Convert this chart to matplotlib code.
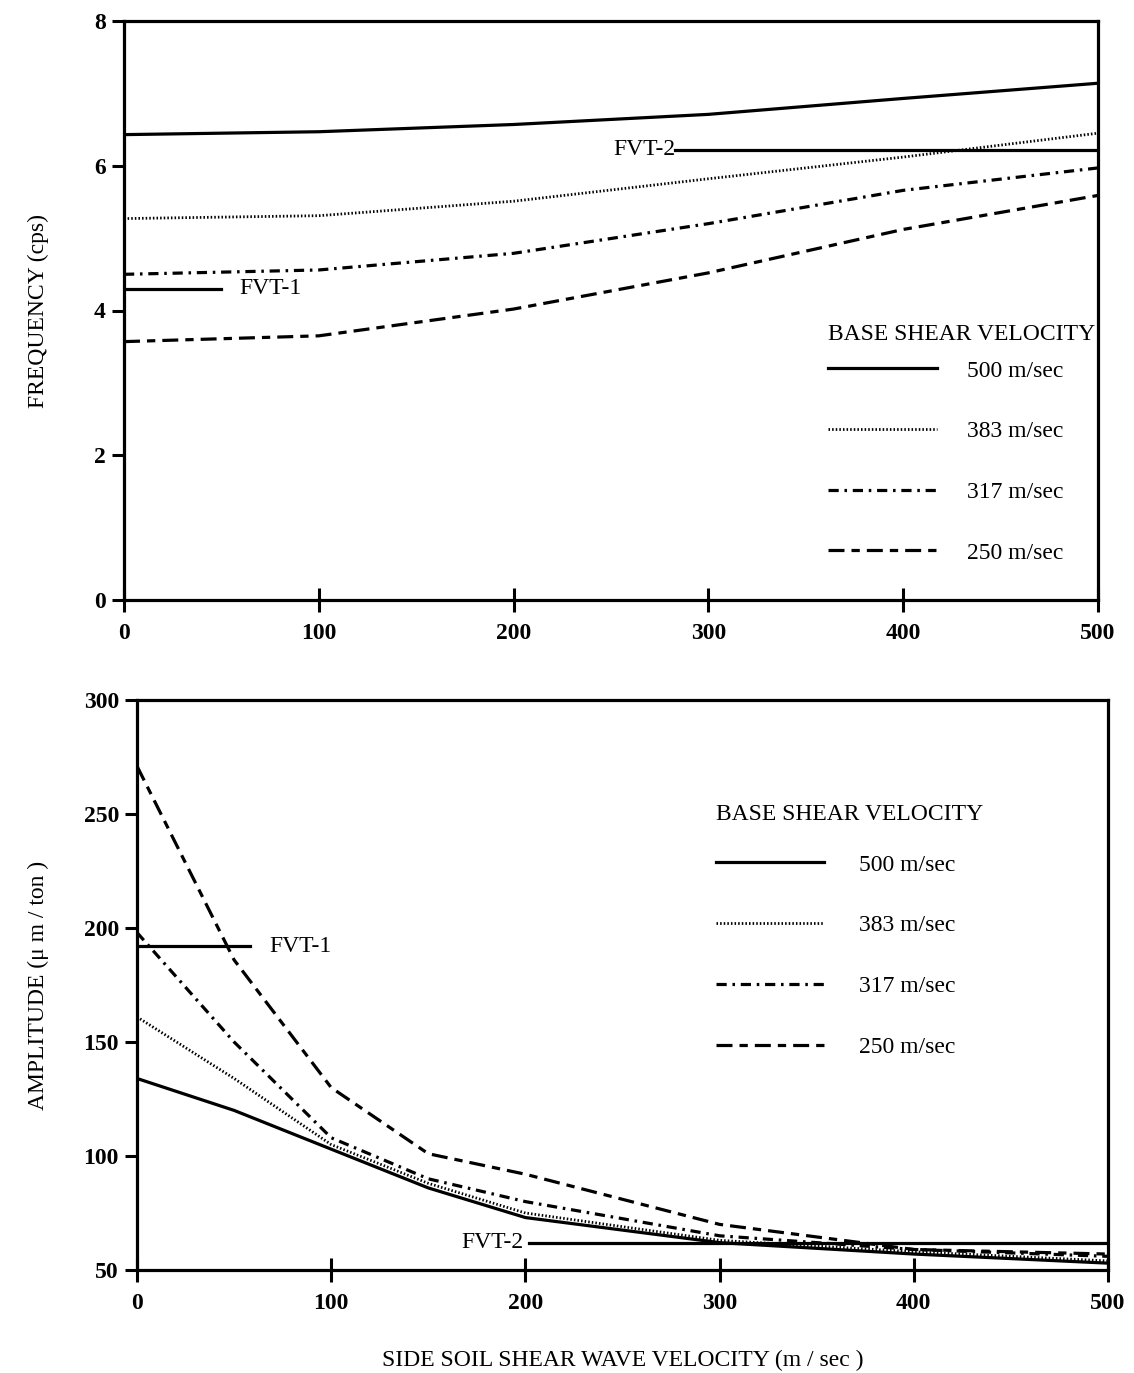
import matplotlib
matplotlib.use("Agg")
import matplotlib.pyplot as plt

plt.rcParams['font.family'] = ['Liberation Serif', 'DejaVu Serif']

# ---- Frequency vs side soil shear wave velocity ----
velocity_top = [0, 100, 200, 300, 400, 500]
freq_500 = [6.43, 6.47, 6.57, 6.71, 6.93, 7.14]
freq_383 = [5.27, 5.31, 5.51, 5.82, 6.12, 6.45]
freq_317 = [4.50, 4.56, 4.79, 5.20, 5.66, 5.97]
freq_250 = [3.57, 3.65, 4.02, 4.52, 5.12, 5.59]
fvt1_freq_span = [0, 50]
fvt1_freq = 4.30
fvt2_freq_span = [283, 500]
fvt2_freq = 6.22

# ---- Amplitude vs side soil shear wave velocity ----
velocity_bot = [0, 50, 100, 150, 200, 300, 400, 500]
amp_500 = [134, 120, 103, 86, 73, 62, 57, 53]
amp_383 = [161, 134, 105, 88, 75, 63, 58, 54]
amp_317 = [198, 150, 108, 90, 80, 65, 59, 56]
amp_250 = [271, 186, 130, 101, 92, 70, 59, 57]
fvt1_amp_span = [0, 58]
fvt1_amp = 192
fvt2_amp_span = [202, 500]
fvt2_amp = 62

base_labels = ['500 m/sec', '383 m/sec', '317 m/sec', '250 m/sec']
freq_ticks = [0, 2, 4, 6, 8]
amp_ticks = [50, 100, 150, 200, 250, 300]
vel_ticks = [0, 100, 200, 300, 400, 500]

FS = 17
LW = 2.3
styles = [
    dict(linestyle='-', lw=LW),
    dict(linestyle=(0, (0.55, 0.75)), lw=2.0),
    dict(linestyle=(0, (3.2, 1.8, 0.8, 1.8)), lw=LW),
    dict(linestyle=(0, (5.0, 2.2, 2.6, 2.2)), lw=LW),
]

fig = plt.figure(figsize=(11.34, 13.73), dpi=100)
ax1 = fig.add_axes([124 / 1134, 1 - 600 / 1373, 974 / 1134, 579 / 1373])
ax2 = fig.add_axes([137 / 1134, 1 - 1270 / 1373, 971 / 1134, 570 / 1373])


def style_axes(ax, yticks):
    for s in ax.spines.values():
        s.set_linewidth(2.3)
    ax.set_xlim(0, 500)
    ax.set_xticks(vel_ticks)
    ax.set_yticks(yticks)
    ax.tick_params(axis='y', direction='out', length=9, width=2.2, pad=4,
                   labelsize=FS)
    ax.tick_params(axis='x', direction='inout', length=17, width=2.2, pad=8,
                   labelsize=FS)
    for lab in ax.get_xticklabels() + ax.get_yticklabels():
        lab.set_fontweight('bold')


def draw_legend(ax, handles, title_xy, box_xy, handletextpad):
    ax.text(title_xy[0], title_xy[1], 'BASE SHEAR VELOCITY', transform=ax.transAxes,
            fontsize=FS, ha='left', va='center')
    ax.legend(handles, base_labels, loc='upper left', bbox_to_anchor=box_xy,
              frameon=False, fontsize=FS, handlelength=4.6,
              handletextpad=handletextpad, labelspacing=1.66, borderpad=0,
              borderaxespad=0)


# Top panel
series_top = [freq_500, freq_383, freq_317, freq_250]
handles = []
for vals, st in zip(series_top, styles):
    h, = ax1.plot(velocity_top, vals, color='black', **st)
    handles.append(h)
ax1.plot(fvt1_freq_span, [fvt1_freq] * 2, color='black', lw=LW)
ax1.plot(fvt2_freq_span, [fvt2_freq] * 2, color='black', lw=LW)
ax1.text(fvt1_freq_span[1] + 9, fvt1_freq, 'FVT-1', fontsize=FS, ha='left', va='center')
ax1.text(fvt2_freq_span[0], fvt2_freq, 'FVT-2', fontsize=FS, ha='right', va='center')
ax1.set_ylim(0, 8)
style_axes(ax1, freq_ticks)
ax1.set_ylabel('FREQUENCY (cps)', fontsize=FS)
ax1.yaxis.set_label_coords(-0.077, 0.5)
draw_legend(ax1, handles, (0.723, 0.458), (0.7228, 0.4144), 1.3)

# Bottom panel
series_bot = [amp_500, amp_383, amp_317, amp_250]
handles = []
for vals, st in zip(series_bot, styles):
    h, = ax2.plot(velocity_bot, vals, color='black', **st)
    handles.append(h)
ax2.plot(fvt1_amp_span, [fvt1_amp] * 2, color='black', lw=LW)
ax2.plot(fvt2_amp_span, [fvt2_amp] * 2, color='black', lw=LW)
ax2.text(fvt1_amp_span[1] + 10, fvt1_amp, 'FVT-1', fontsize=FS, ha='left', va='center')
ax2.text(fvt2_amp_span[0] - 3, fvt2_amp, 'FVT-2', fontsize=FS, ha='right', va='center')
ax2.set_ylim(50, 300)
style_axes(ax2, amp_ticks)
ax2.set_ylabel('AMPLITUDE (μ m / ton )', fontsize=FS)
ax2.yaxis.set_label_coords(-0.091, 0.5)
ax2.set_xlabel('SIDE SOIL SHEAR WAVE VELOCITY (m / sec )', fontsize=FS, labelpad=26)
draw_legend(ax2, handles, (0.596, 0.80), (0.596, 0.7295), 1.45)

fig.savefig('out.png', dpi=100, facecolor='white')
